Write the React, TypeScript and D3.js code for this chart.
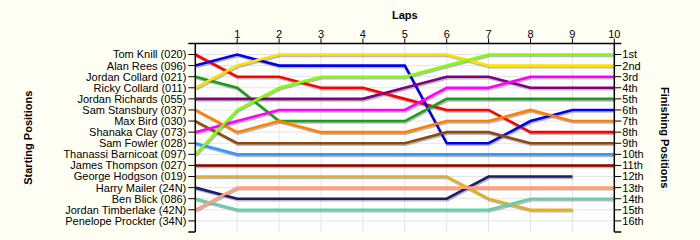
import React from "react";
import * as d3 from "d3";

const laps = [0, 1, 2, 3, 4, 5, 6, 7, 8, 9, 10];
const starters = [
  "Tom Knill (020)",
  "Alan Rees (096)",
  "Jordan Collard (021)",
  "Ricky Collard (011)",
  "Jordan Richards (055)",
  "Sam Stansbury (037)",
  "Max Bird (030)",
  "Shanaka Clay (073)",
  "Sam Fowler (028)",
  "Thanassi Barnicoat (097)",
  "James Thompson (027)",
  "George Hodgson (019)",
  "Harry Mailer (24N)",
  "Ben Blick (086)",
  "Jordan Timberlake (42N)",
  "Penelope Prockter (34N)",
];
const finishLabels = [
  "1st", "2nd", "3rd", "4th", "5th", "6th", "7th", "8th",
  "9th", "10th", "11th", "12th", "13th", "14th", "15th", "16th",
];

// position per lap (lap 0 = start)
const tomKnill = [1, 3, 3, 4, 4, 5, 6, 6, 8, 8, 8];
const alanRees = [2, 1, 2, 2, 2, 2, 9, 9, 7, 6, 6];
const jordanCollard = [3, 4, 7, 7, 7, 7, 5, 5, 5, 5, 5];
const rickyCollard = [4, 2, 1, 1, 1, 1, 1, 2, 2, 2, 2];
const jordanRichards = [5, 5, 5, 5, 5, 4, 3, 3, 4, 4, 4];
const samStansbury = [6, 8, 7, 8, 8, 8, 7, 7, 6, 7, 7];
const maxBird = [7, 9, 9, 9, 9, 9, 8, 8, 9, 9, 9];
const shanakaClay = [8, 7, 6, 6, 6, 6, 4, 4, 3, 3, 3];
const samFowler = [9, 10, 10, 10, 10, 10, 10, 10, 10, 10, 10];
const thanassiBarnicoat = [10, 6, 4, 3, 3, 3, 2, 1, 1, 1, 1];
const jamesThompson = [11, 11, 11, 11, 11, 11, 11, 11, 11, 11, 11];
const georgeHodgson = [12, 12, 12, 12, 12, 12, 12, 14, 15, 15];
const harryMailer = [13, 14, 14, 14, 14, 14, 14, 12, 12, 12];
const benBlick = [14, 15, 15, 15, 15, 15, 15, 15, 14, 14, 14];
const jordanTimberlake = [15, 13, 13, 13, 13, 13, 13, 13, 13, 13, 13];

const seriesList = [
  tomKnill, alanRees, jordanCollard, rickyCollard, jordanRichards,
  samStansbury, maxBird, shanakaClay, samFowler, thanassiBarnicoat,
  jamesThompson, georgeHodgson, harryMailer, benBlick, jordanTimberlake,
];
const seriesColors = [
  "#ff0000", "#0000ee", "#1a9e1a", "#ffe000", "#800080",
  "#ff8000", "#8b4a14", "#ff00ff", "#3399ff", "#80ff00",
  "#8b0000", "#e0b020", "#1c1c6e", "#66cdaa", "#ffa07a",
];

const W = 700;
const H = 240;
const M = { left: 195.3, right: 614.3, top: 43.4, bottom: 232 };

export default function App() {
  const x = d3.scaleLinear().domain([0, 10]).range([M.left, M.right]);
  const y = d3.scaleLinear().domain([0, 17]).range([M.top, M.bottom]);
  const line = d3
    .line<number>()
    .x((_, i) => x(laps[i]))
    .y((d) => y(d));

  const font = "'Liberation Sans', Arial, sans-serif";
  const posTicks = d3.range(1, 17);
  const lapTicks = laps.slice(1);

  return (
    <div style={{ position: "absolute", left: 0, top: 0 }}>
      <svg width={W} height={H} style={{ display: "block" }} fontFamily={font}>
        <rect x={0} y={0} width={W} height={H} fill="#fffff4" />
        <rect
          x={M.left}
          y={M.top}
          width={M.right - M.left}
          height={M.bottom - M.top}
          fill="#ffffff"
        />
        {/* grid */}
        {lapTicks.map((l) => (
          <line key={"gx" + l} x1={x(l)} x2={x(l)} y1={M.top} y2={M.bottom} stroke="#e4e4e4" strokeWidth={1} />
        ))}
        {posTicks.map((p) => (
          <line key={"gy" + p} x1={M.left} x2={M.right} y1={y(p)} y2={y(p)} stroke="#e4e4e4" strokeWidth={1} />
        ))}
        {/* shadows */}
        {seriesList.map((s, i) => (
          <path
            key={"sh" + i}
            d={line(s) || ""}
            fill="none"
            stroke="#8c8c8c"
            strokeOpacity={0.6}
            strokeWidth={2.6}
            transform="translate(1,1.5)"
          />
        ))}
        {seriesList.map((s, i) => (
          <path
            key={"ln" + i}
            d={line(s) || ""}
            fill="none"
            stroke={seriesColors[i]}
            strokeWidth={2.6}
            strokeLinejoin="miter"
          />
        ))}
        {/* axes */}
        <line x1={M.left} x2={M.left} y1={M.top} y2={M.bottom} stroke="#000" strokeWidth={1.5} />
        <line x1={M.right} x2={M.right} y1={M.top} y2={M.bottom} stroke="#000" strokeWidth={1.5} />
        <line x1={M.left - 7} x2={M.right + 7} y1={M.top} y2={M.top} stroke="#000" strokeWidth={1.5} />
        <line x1={M.left - 7} x2={M.left} y1={M.bottom} y2={M.bottom} stroke="#000" strokeWidth={1.5} />
        <line x1={M.right} x2={M.right + 7} y1={M.bottom} y2={M.bottom} stroke="#000" strokeWidth={1.5} />
        {lapTicks.map((l) => (
          <g key={"tx" + l}>
            <line x1={x(l)} x2={x(l)} y1={M.top - 5} y2={M.top} stroke="#000" strokeWidth={1} />
            <text x={x(l)} y={37.5} fontSize={11} textAnchor="middle" fill="#000">
              {l}
            </text>
          </g>
        ))}
        {starters.map((n, i) => (
          <g key={"ly" + i}>
            <line x1={M.left - 7} x2={M.left} y1={y(i + 1)} y2={y(i + 1)} stroke="#000" strokeWidth={1} />
            <text x={M.left - 9} y={y(i + 1)} dy="0.36em" fontSize={11} textAnchor="end" fill="#000">
              {n}
            </text>
          </g>
        ))}
        {finishLabels.map((n, i) => (
          <g key={"ry" + i}>
            <line x1={M.right} x2={M.right + 7} y1={y(i + 1)} y2={y(i + 1)} stroke="#000" strokeWidth={1} />
            <text x={M.right + 8} y={y(i + 1)} dy="0.36em" fontSize={11} textAnchor="start" fill="#000">
              {n}
            </text>
          </g>
        ))}
        {/* titles */}
        <text x={(M.left + M.right) / 2} y={18.5} fontSize={11} fontWeight="bold" textAnchor="middle">
          Laps
        </text>
        <text
          transform={`translate(32,${(M.top + M.bottom) / 2}) rotate(-90)`}
          fontSize={11}
          fontWeight="bold"
          textAnchor="middle"
        >
          Starting Positions
        </text>
        <text
          transform={`translate(661,${(M.top + M.bottom) / 2}) rotate(90)`}
          fontSize={11}
          fontWeight="bold"
          textAnchor="middle"
        >
          Finishing Positions
        </text>
      </svg>
    </div>
  );
}
